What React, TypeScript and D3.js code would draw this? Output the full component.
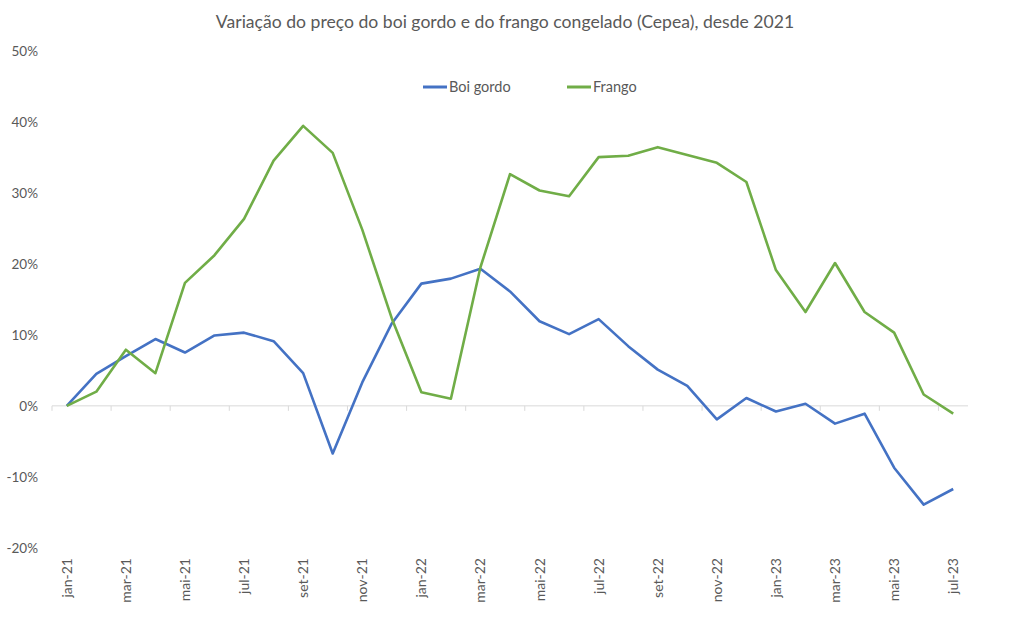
import React from "react";
import * as d3 from "d3";

// Monthly categories, jan-21 through jul-23
const months = [
  "jan-21", "fev-21", "mar-21", "abr-21", "mai-21", "jun-21", "jul-21", "ago-21", "set-21", "out-21", "nov-21", "dez-21",
  "jan-22", "fev-22", "mar-22", "abr-22", "mai-22", "jun-22", "jul-22", "ago-22", "set-22", "out-22", "nov-22", "dez-22",
  "jan-23", "fev-23", "mar-23", "abr-23", "mai-23", "jun-23", "jul-23",
];

// Cumulative price variation (%) since jan-21
const boiGordo = [
  0, 4.5, 7.0, 9.4, 7.5, 9.9, 10.3, 9.1, 4.6, -6.7, 3.3, 11.6,
  17.2, 17.9, 19.3, 16.1, 11.9, 10.1, 12.2, 8.4, 5.1, 2.8, -1.9, 1.1,
  -0.8, 0.3, -2.5, -1.1, -8.7, -13.9, -11.7,
];
const frango = [
  0, 2.0, 7.9, 4.6, 17.3, 21.2, 26.3, 34.5, 39.4, 35.6, 24.8, 12.3,
  1.9, 1.0, 19.5, 32.6, 30.3, 29.5, 35.0, 35.2, 36.4, 35.3, 34.2, 31.5,
  19.1, 13.2, 20.1, 13.2, 10.3, 1.6, -1.1,
];

const yTicks = [-20, -10, 0, 10, 20, 30, 40, 50];

const seriesList = [
  { name: "Boi gordo", values: boiGordo, color: "#4472C4" },
  { name: "Frango", values: frango, color: "#70AD47" },
];

const W = 1012;
const H = 630;
const FONT = "Lato, sans-serif";

export default function App() {
  const x = d3.scaleBand<string>().domain(months).range([52, 968]).padding(0);
  const y = d3.scaleLinear().domain([-20, 50]).range([548, 50.5]);
  const cx = (m: string) => (x(m) ?? 0) + x.bandwidth() / 2;

  const line = d3
    .line<number>()
    .x((_, i) => cx(months[i]))
    .y((v) => y(v));

  // Tick marks sit at every other band boundary
  const boundaries = d3.range(0, months.length + 1, 2).map((i) => 52 + i * x.bandwidth());
  const labeled = months.filter((_, i) => i % 2 === 0);

  return (
    <svg width={W} height={H} style={{ position: "absolute", left: 0, top: 0, background: "#fff" }}>
      <rect width={W} height={H} fill="#fff" />
      <text x={505} y={28} textAnchor="middle" fontFamily={FONT} fontSize={17.6} fill="#595959">
        Variação do preço do boi gordo e do frango congelado (Cepea), desde 2021
      </text>

      {/* legend */}
      <g fontFamily={FONT} fontSize={14.5} fill="#595959">
        <line x1={423} x2={447} y1={87} y2={87} stroke="#4472C4" strokeWidth={3} />
        <text x={449} y={92}>Boi gordo</text>
        <line x1={567} x2={591} y1={87} y2={87} stroke="#70AD47" strokeWidth={3} />
        <text x={593} y={92}>Frango</text>
      </g>

      {/* y axis labels */}
      <g fontFamily={FONT} fontSize={13.5} fill="#595959">
        {yTicks.map((t) => (
          <text key={t} x={38} y={y(t) + 5} textAnchor="end">
            {`${t}%`}
          </text>
        ))}
      </g>

      {/* zero baseline with ticks */}
      <line x1={52} x2={968} y1={y(0)} y2={y(0)} stroke="#d9d9d9" strokeWidth={1} />
      {boundaries.map((b, i) => (
        <line key={i} x1={b} x2={b} y1={y(0)} y2={y(0) + 5} stroke="#d9d9d9" strokeWidth={1} />
      ))}

      {/* x labels, rotated */}
      <g fontFamily={FONT} fontSize={14} fill="#595959">
        {labeled.map((m) => (
          <text
            key={m}
            transform={`translate(${cx(m) + 5},${558}) rotate(-90)`}
            textAnchor="end"
          >
            {m}
          </text>
        ))}
      </g>

      {seriesList.map((s) => (
        <path
          key={s.name}
          d={line(s.values) ?? ""}
          fill="none"
          stroke={s.color}
          strokeWidth={2.6}
          strokeLinejoin="round"
        />
      ))}
    </svg>
  );
}
